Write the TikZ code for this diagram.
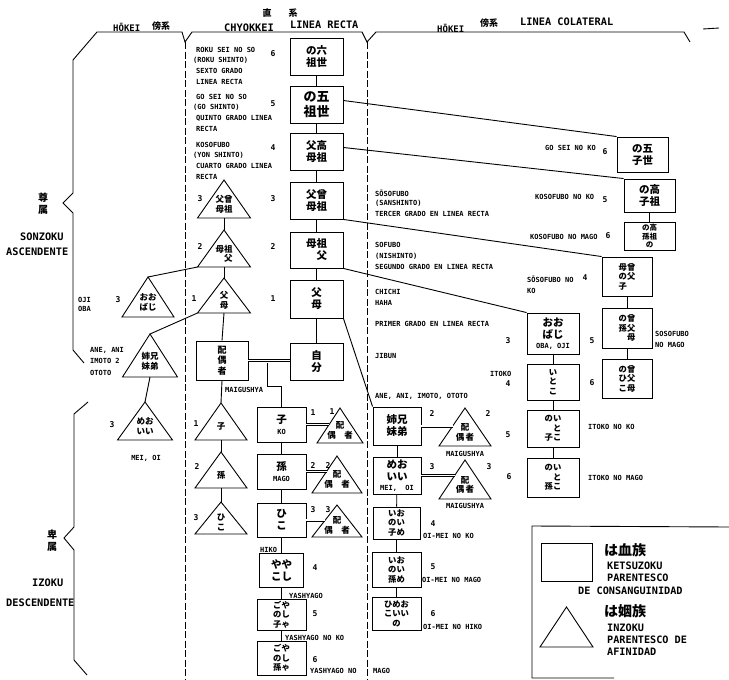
\documentclass[tikz,border=0pt]{standalone}
\usepackage{fontspec}
\setmonofont{DejaVu Sans Mono}
\newfontfamily\jp{Noto Sans CJK JP}
\usetikzlibrary{calc}
\newcommand{\lbf}{\ttfamily\bfseries\fontsize{7}{10.6}\selectfont}
\newcommand{\hdf}{\ttfamily\bfseries\fontsize{10.3}{12}\selectfont}
\newcommand{\lgf}{\ttfamily\bfseries\fontsize{10.2}{12}\selectfont}
\newcommand{\numf}{\ttfamily\bfseries\fontsize{8}{9}\selectfont}
\newcommand{\jpf}{\jp\bfseries\fontsize{10.5}{12}\selectfont}
\newcommand{\jps}{\jp\bfseries\fontsize{8.3}{9.5}\selectfont}
\newcommand{\jpt}{\jp\bfseries\fontsize{8.5}{9.8}\selectfont}
\newcommand{\tri}[6]{%
  \coordinate (#1-a) at (#2,#3);
  \coordinate (#1-l) at (#2-#5,#4);
  \coordinate (#1-r) at (#2+#5,#4);
  \coordinate (#1-b) at (#2,#4);
  \draw[ln] (#1-a) -- (#1-l) -- (#1-r) -- cycle;
  \node[jt] (#1) at (#2,{#4-(#4-#3)*0.36}) {#6};
}
\begin{document}
\begin{tikzpicture}[x=1pt,y=-1pt,
  ln/.style={line width=0.9pt},
  dsh/.style={line width=0.9pt,dash pattern=on 7pt off 2.5pt},
  dbl/.style={double,double distance=1.6pt,line width=0.7pt},
  bx/.style 2 args={draw,line width=0.9pt,inner sep=0pt,align=center,font=\jpf,minimum width=#1pt,minimum height=#2pt},
  jt/.style={inner sep=0pt,align=center,font=\jpt},
  lb/.style={inner sep=0pt,anchor=west,font=\lbf},
  lbk/.style={inner sep=0pt,anchor=north west,align=left,font=\lbf},
  lc/.style={inner sep=0pt,font=\lbf},
  num/.style={inner sep=0pt,font=\numf},
  hd/.style={inner sep=0pt,anchor=west,font=\hdf},
  lg/.style={inner sep=0pt,anchor=west,font=\lgf},
  jh/.style={inner sep=0pt,font=\jp\bfseries\fontsize{9}{11}\selectfont}]
\useasboundingbox (0,0) rectangle (729,680);
% ---------- header brackets and column separators
\draw[ln] (73,60) -- (97,32) -- (182,32) -- (185,42) -- (192,32) -- (362,32) -- (367,42) -- (376,32) -- (684,32) -- (690,42);
\draw[ln] (703,29) -- (719,28);
\draw[dsh] (185,42) -- (185,680);
\draw[dsh] (367,42) -- (367,680);
\draw[ln] (73,60) -- (73,193) -- (63,203) -- (73,213) -- (73,350) -- (84,363);
\draw[ln] (88,402) -- (74,414) -- (74,527) -- (64,538) -- (74,550) -- (74,660) -- (87,675);
% ---------- headers
\node[hd,font=\ttfamily\bfseries\fontsize{9}{11}\selectfont] (h1) at (113,27) {HŌKEI};
\node[jh,anchor=west] (h2) at (152,26) {傍系};
\node[hd] (h3) at (224,28) {CHYOKKEI};
\node[jh] (h4) at (267,13) {直};
\node[jh] (h5) at (293,13) {系};
\node[hd] (h6) at (290,25) {LINEA RECTA};
\node[hd,font=\ttfamily\bfseries\fontsize{9}{11}\selectfont] (h7) at (437,28) {HŌKEI};
\node[jh,anchor=west] (h8) at (480,23) {傍系};
\node[hd] (h9) at (520,22) {LINEA COLATERAL};
\node[jh,align=center,font=\jp\bfseries\fontsize{10}{12}\selectfont] (s1) at (43,204) {尊\\属};
\node[hd] (s2) at (20,237) {SONZOKU};
\node[hd] (s3) at (6,252) {ASCENDENTE};
\node[jh,align=center,font=\jp\bfseries\fontsize{10}{12}\selectfont] (s4t) at (52,541) {卑\\属};
\node[hd] (s5t) at (32,583) {IZOKU};
\node[hd] (s6t) at (6,603) {DESCENDENTE};
% ---------- linea recta boxes
\node[bx={53}{37}] (b6) at (316.5,56.5) {の六\\祖世};
\node[bx={53}{37},font=\jp\bfseries\fontsize{13}{14.5}\selectfont] (b5) at (316.5,104.5) {の五\\祖世};
\node[bx={53}{37}] (b4) at (316.5,151.5) {父高\\母祖};
\node[bx={53}{37}] (b3) at (316.5,200.5) {父曾\\母祖};
\node[bx={53}{36}] (b2) at (316.5,250) {母祖\\　父};
\node[bx={53}{38}] (b1) at (316.5,299) {父\\母};
\node[bx={53}{37}] (jibun) at (316.5,361.5) {自\\分};
\node[bx={52}{39},font=\jp\bfseries\fontsize{9}{10.5}\selectfont] (haig) at (222,360.5) {配\\偶\\者};
% ---------- chyokkei text blocks
\node[lbk] (c6) at (196,47) {ROKU SEI NO SO\\\hspace*{-3pt}(ROKU SHINTO)\\SEXTO GRADO\\LINEA RECTA};
\node[lbk] (c5) at (196,94) {GO SEI NO SO\\\hspace*{-3pt}(GO SHINTO)\\QUINTO GRADO LINEA\\RECTA};
\node[lbk] (c4) at (196,142) {KOSOFUBO\\\hspace*{-3pt}(YON SHINTO)\\CUARTO GRADO LINEA\\RECTA};
\node[num] (n6) at (273,54) {6};
\node[num] (n5) at (273,104) {5};
\node[num] (n4) at (273,148) {4};
\node[num] (n3) at (273,199) {3};
\node[num] (n2) at (273,247) {2};
\node[num] (n1) at (273,299) {1};
% ---------- chyokkei / hokei triangles
\tri{tA3}{224}{180}{218}{26.5}{父曾\\母祖}
\tri{tA2}{224}{230}{267}{26.5}{母祖\\　父}
\tri{tA1}{224}{278}{313}{26.5}{父\\母}
\tri{toji}{148}{277}{317}{26}{おお\\ばじ}
\tri{tane}{150}{334}{377}{27.5}{姉兄\\妹弟}
\tri{tmei}{145}{402}{440}{27.5}{めお\\いい}
\tri{tko}{221}{403}{440}{26}{子}
\tri{tmago}{221}{452}{488}{26}{孫}
\tri{thiko}{221}{502}{534}{26}{ひ\\こ}
\node[num] (m3) at (200,199) {3};
\node[num] (m2) at (200,247) {2};
\node[num] (m1) at (194,299) {1};
\node[num] (m0) at (118,300) {3};
\node[num] (m4) at (112,425) {3};
\node[num] (m5) at (196,424) {1};
\node[num] (m6) at (197,467) {2};
\node[num] (m7) at (196,518) {3};
\node[lb] (o1) at (78,300) {OJI};
\node[lb] (o2) at (78,309) {OBA};
\node[lb] (o3) at (90,350) {ANE, ANI};
\node[lb] (o4) at (90,361) {IMOTO 2};
\node[lb] (o5) at (90,373) {OTOTO};
\node[lc] (o6) at (146,458) {MEI, OI};
\node[lb] (o7) at (225,390) {MAIGUSHYA};
% ---------- descendant boxes
\node[bx={49}{35}] (ko) at (281.5,424.5) {子\\[-1pt]{\lbf KO}};
\node[bx={49}{35}] (mago) at (281.5,471.5) {孫\\[-1pt]{\lbf MAGO}};
\node[bx={49}{34}] (hiko) at (281.5,520) {ひ\\こ};
\node[bx={44}{34}] (ya4) at (281.5,570) {やや\\こし};
\node[bx={49}{31},font=\jps] (ya5) at (281.5,614.5) {ごや\\のし\\子ゃ};
\node[bx={49}{34},font=\jps] (ya6) at (281.5,658) {ごや\\のし\\孫ゃ};
\node[lb] (y1) at (260,550) {HIKO};
\node[num] (y2) at (315,568) {4};
\node[lb] (y3) at (289,596) {YASHYAGO};
\node[num] (y4) at (315,614) {5};
\node[lb] (y5) at (285,638) {YASHYAGO NO KO};
\node[num] (y6) at (315,660) {6};
\node[lb] (y7) at (310,671) {YASHYAGO NO};
\node[lb] (y8) at (373,671) {MAGO};
% spouse triangles
\tri{sp1}{340}{408}{443}{23}{配\\偶　者}
\tri{sp2}{337}{456}{493}{25}{配\\偶　者}
\tri{sp3}{337}{505}{537}{25}{配\\偶　者}
\node[num] (q1) at (313,413) {1};
\node[num] (q2) at (332,412) {1};
\node[num] (q3) at (313,466) {2};
\node[num] (q4) at (328,466) {2};
\node[num] (q5) at (313,510) {3};
\node[num] (q6) at (328,510) {3};
% ---------- collateral text
\node[lb] (k1) at (375,193) {SŌSOFUBO};
\node[lb] (k2) at (375,203) {(SANSHINTO)};
\node[lb] (k3) at (375,214) {TERCER GRADO EN LINEA RECTA};
\node[lb] (k4) at (375,245) {SOFUBO};
\node[lb] (k5t) at (375,256) {(NISHINTO)};
\node[lb] (k6t) at (375,267) {SEGUNDO GRADO EN LINEA RECTA};
\node[lb] (k7) at (375,292) {CHICHI};
\node[lb] (k8) at (375,303) {HAHA};
\node[lb] (k9) at (375,324) {PRIMER GRADO EN LINEA RECTA};
\node[lb] (k10) at (375,356) {JIBUN};
\node[lb] (k11) at (375,396) {ANE, ANI, IMOTO, OTOTO};
% collateral boxes
\node[bx={48}{38}] (ane2) at (397,426) {姉兄\\妹弟};
\node[bx={48}{37}] (mei2) at (397,475.5) {めお\\いい\\[-2pt]{\lbf MEI,\ \ OI}};
\node[bx={47}{32},font=\jps] (oi4) at (396.5,523) {いお\\のい\\子め};
\node[bx={49}{35},font=\jps] (oi5) at (396.5,569.5) {いお\\のい\\孫め};
\node[bx={49}{33},font=\jps] (oi6) at (396.5,613.5) {ひめお\\こいい\\の};
\tri{spA}{465}{408}{446}{26}{配\\偶\,者}
\tri{spB}{465}{460}{499}{26}{配\\偶\,者}
\node[num] (r1) at (432,414) {2};
\node[num] (r2) at (488,414) {2};
\node[num] (r3) at (432,467) {3};
\node[num] (r4) at (489,467) {3};
\node[lc] (r5) at (465,454) {MAIGUSHYA};
\node[lc] (r6) at (465,506) {MAIGUSHYA};
\node[num] (r7) at (433,524) {4};
\node[num] (r8) at (433,567) {5};
\node[num] (r9) at (433,614) {6};
\node[lb] (r10) at (423,536) {OI-MEI NO KO};
\node[lb] (r11) at (422,580) {OI-MEI NO MAGO};
\node[lb] (r12) at (423,627) {OI-MEI NO HIKO};
% itoko chain
\node[bx={52}{41}] (ojioba) at (553,333.5) {おお\\ばじ\\[-2pt]{\lbf OBA, OJI}};
\node[bx={52}{36},font=\jps] (itoko) at (553,382) {い\\と\\こ};
\node[bx={52}{37},font=\jps] (itokoko) at (553,428.5) {のい\\　と\\子こ};
\node[bx={52}{39},font=\jps] (itokomago) at (553,477.5) {のい\\　と\\孫こ};
\node[num] (i1) at (508,341) {3};
\node[num] (i2) at (592,341) {5};
\node[lb] (i3) at (490,374) {ITOKO};
\node[num] (i4) at (508,384) {4};
\node[num] (i5) at (592,383) {6};
\node[num] (i6) at (508,435) {5};
\node[num] (i7) at (509,477) {6};
\node[lb] (i8) at (588,427) {ITOKO NO KO};
\node[lb] (i9) at (588,478) {ITOKO NO MAGO};
% right chain
\node[bx={51}{35}] (go) at (642.5,154.5) {の五\\子世};
\node[bx={51}{33}] (k5) at (649.5,195.5) {の高\\子祖};
\node[bx={51}{28},font=\jp\bfseries\fontsize{7.5}{8.6}\selectfont] (k6) at (649.5,236) {の高\\孫祖\\の};
\node[bx={50}{39},font=\jps] (s4) at (627,276.5) {母曾\\の父\\子　};
\node[bx={50}{40},font=\jps] (s5) at (627,328) {の曾\\孫父\\　母};
\node[bx={50}{39},font=\jps] (s6) at (627,378.5) {の曾\\ひ父\\こ母};
\node[lb] (g1) at (545,148) {GO SEI NO KO};
\node[num] (g2) at (605,152) {6};
\node[lb] (g3) at (535,197) {KOSOFUBO NO KO};
\node[num] (g4) at (605,200) {5};
\node[lb] (g5) at (530,237) {KOSOFUBO NO MAGO};
\node[num] (g6) at (608,236) {6};
\node[lb] (g7) at (527,279) {SŌSOFUBO NO};
\node[num] (g8) at (585,278) {4};
\node[lb] (g9) at (527,291) {KO};
\node[lb] (g10) at (655,334) {SOSOFUBO};
\node[lb] (g11) at (655,345) {NO MAGO};
% ---------- connectors
\draw[ln] (b6) -- (b5);
\draw[ln] (b5) -- (b4);
\draw[ln] (b4) -- (b3);
\draw[ln] (b3) -- (b2);
\draw[ln] (b2) -- (b1);
\draw[ln] (b1) -- (jibun);
\draw[ln] (tA3-b) -- (tA2-a);
\draw[ln] (tA2-b) -- (tA1-a);
\draw[ln] (tA1-b) -- (haig.north);
\draw[ln] (haig.south) -- (tko-a);
\draw[ln] (tko-b) -- (tmago-a);
\draw[ln] (tmago-b) -- (thiko-a);
\draw[ln] (tA2-l) -- (toji-a);
\draw[ln] (tA1-l) -- (tane-a);
\draw[ln] (tane-b) -- (tmei-a);
\draw[dbl] (haig.east) -- (haig.east -| jibun.west);
\coordinate (cj) at (267,362.5);
\draw[ln] (cj) -- ++(0,23.5) -| (ko.north);
\draw[ln] (ko) -- (mago);
\draw[ln] (mago) -- (hiko);
\draw[ln] (hiko) -- (ya4);
\draw[ln] (ya4) -- (ya5);
\draw[ln] (ya5) -- (ya6);
\coordinate (e1) at ($(sp1-a)!0.47!(sp1-l)$);
\coordinate (e2) at ($(sp2-a)!0.42!(sp2-l)$);
\coordinate (e3) at ($(sp3-a)!0.47!(sp3-l)$);
\coordinate (e4) at ($(spA-a)!0.47!(spA-l)$);
\coordinate (e5) at ($(spB-a)!0.40!(spB-l)$);
\draw[dbl] (ko.east) -- (ko.east -| e1);
\draw[dbl] (mago.east) -- (mago.east -| e2);
\draw[dbl] (hiko.east) -- (hiko.east -| e3);
\draw[dbl] (ane2.east) -- (ane2.east -| e4);
\draw[dbl] (mei2.east) -- (mei2.east -| e5);
\draw[ln] (b1.south east) -- (ane2.north west);
\draw[ln] (b2.south east) -- (ojioba.north west);
\draw[ln] (b3.south east) -- (s4.north west);
\draw[ln] ([yshift=4pt]b4.east) -- (k5.north west);
\draw[ln] ([yshift=4pt]b5.east) -- (go.north west);
\draw[ln] (k5) -- (k6);
\draw[ln] (s4) -- (s5);
\draw[ln] (s5) -- (s6);
\draw[ln] (ojioba) -- (itoko);
\draw[ln] (itoko) -- (itokoko);
\draw[ln] (itokoko) -- (itokomago);
\draw[ln] (ane2) -- (mei2);
\draw[ln] (mei2) -- (oi4);
\draw[ln] (oi4) -- (oi5);
\draw[ln] (oi5) -- (oi6);
% ---------- legend
\draw[ln] (729,527) -- (532,526) -- (532,678) -- (614,678);
\node[bx={51}{38}] (lsq) at (566.5,562) {};
\tri{ltr}{566.5}{607}{647}{26.5}{}
\node[jh,anchor=west,font=\jp\bfseries\fontsize{14}{16}\selectfont] (lg1) at (604,550) {は血族};
\node[lg] (lg2) at (607,566) {KETSUZOKU};
\node[lg] (lg3) at (607,578) {PARENTESCO};
\node[lg] (lg4) at (578,591) {DE CONSANGUINIDAD};
\node[jh,anchor=west,font=\jp\bfseries\fontsize{14}{16}\selectfont] (lg5) at (604,611) {は姻族};
\node[lg] (lg6) at (607,628) {INZOKU};
\node[lg] (lg7) at (607,640) {PARENTESCO DE};
\node[lg] (lg8) at (607,652) {AFINIDAD};
\end{tikzpicture}
\end{document}
